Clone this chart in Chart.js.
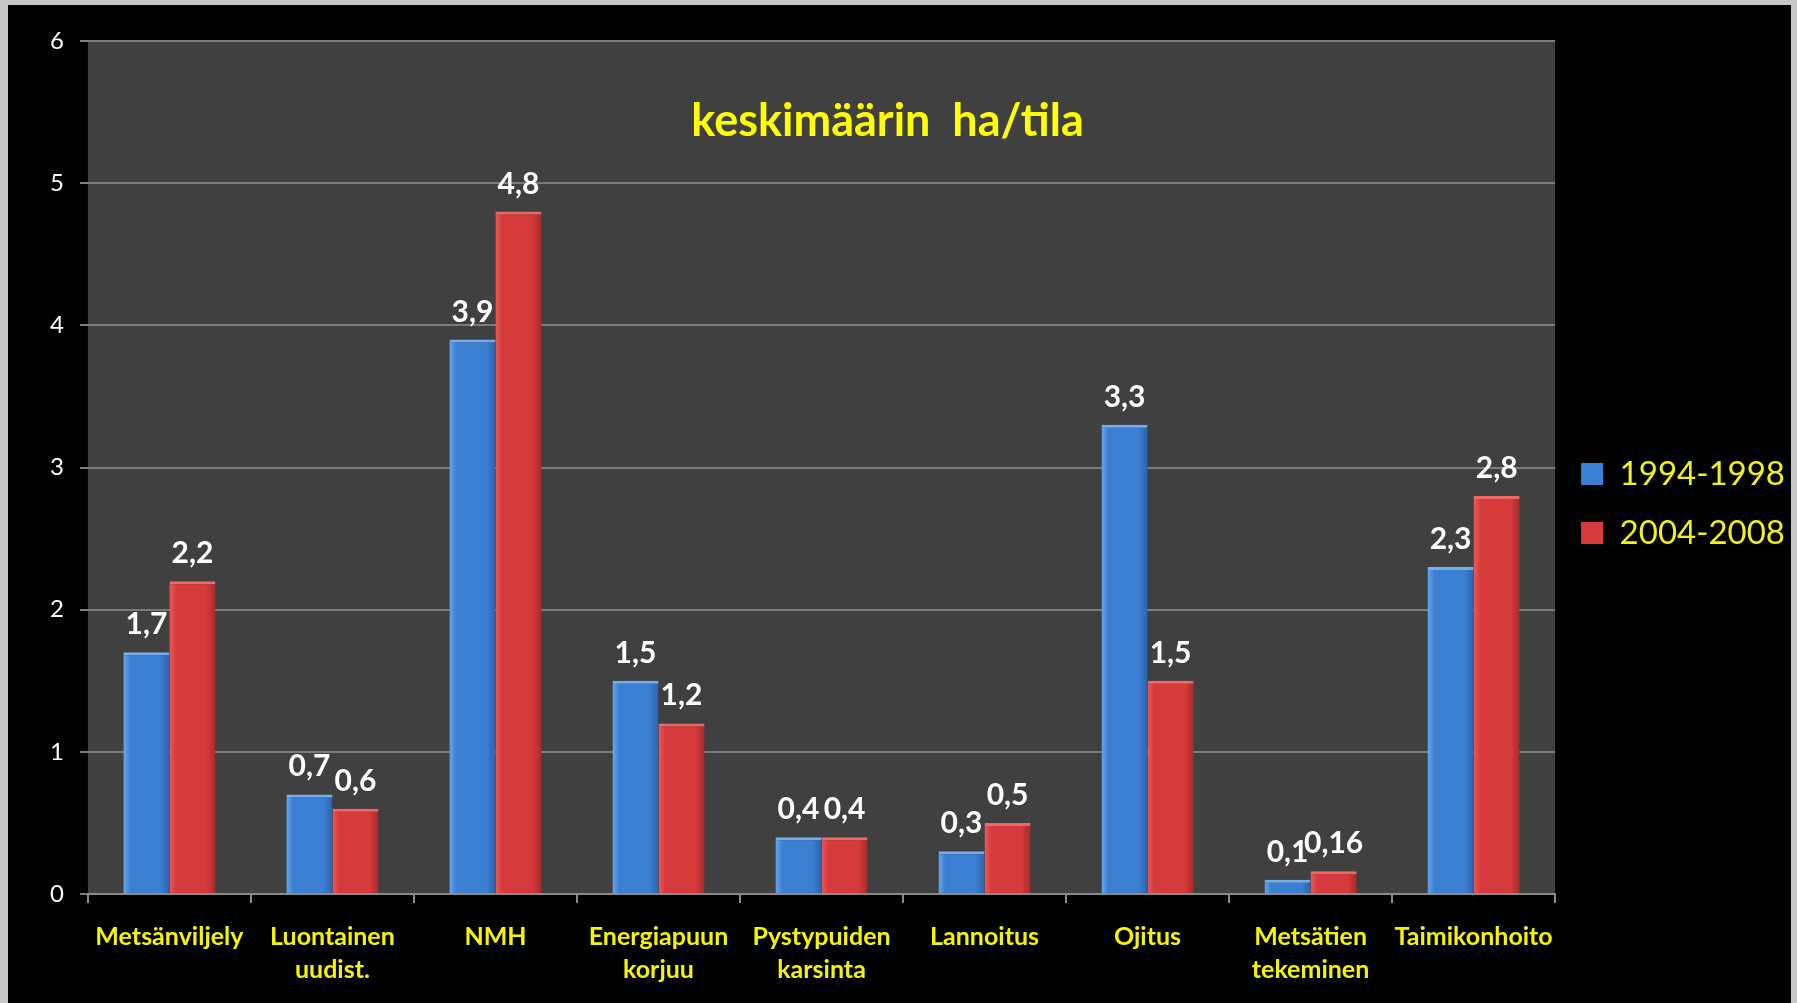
<!DOCTYPE html>
<html>
<head>
<meta charset="utf-8">
<script src="https://cdn.jsdelivr.net/npm/chart.js@4/dist/chart.umd.min.js"></script>
<style>
  html, body { margin: 0; padding: 0; background: #c8c8c8; overflow: hidden; }
  #wrap {
    position: absolute; left: 8px; top: 5px;
    width: 1789px; height: 998px; background: #000;
  }
  #edge { position: absolute; left: 1791px; top: 0; width: 6px; height: 1003px; background: #c8c8c8; }
</style>
</head>
<body>
<div id="wrap"><canvas id="chart"></canvas></div>
<div id="edge"></div>
<script>
// --- chart data ---
const categories = [
  'Metsänviljely', ['Luontainen', 'uudist.'], 'NMH', ['Energiapuun', 'korjuu'],
  ['Pystypuiden', 'karsinta'], 'Lannoitus', 'Ojitus', ['Metsätien', 'tekeminen'], 'Taimikonhoito'
];
const series1994 = [1.7, 0.7, 3.9, 1.5, 0.4, 0.3, 3.3, 0.1, 2.3];
const series2004 = [2.2, 0.6, 4.8, 1.2, 0.4, 0.5, 1.5, 0.16, 2.8];
const seriesNames = ['1994-1998', '2004-2008'];
const yTicks = [0, 1, 2, 3, 4, 5, 6];
const titleText = 'keskimäärin  ha/tila';

const CAT_PCT = 0.565;

// bar colour with a little left-to-right shading
function barFill(light, mid, dark, side) {
    return (context) => {
        const chart = context.chart;
        const xs = chart.scales.x;
        if (!xs || context.dataIndex === undefined) return mid;
        const cx = xs.getPixelForValue(context.dataIndex);
        const w = (xs.width / categories.length) * CAT_PCT / 2;
        const x0 = side === 0 ? cx - w : cx;
        const g = chart.ctx.createLinearGradient(x0, 0, x0 + w, 0);
        g.addColorStop(0, light);
        g.addColorStop(0.15, mid);
        g.addColorStop(0.8, mid);
        g.addColorStop(1, dark);
        return g;
    };
}

const plotBackground = {
    id: 'plotBackground',
    beforeDraw(chart) {
        const { ctx, chartArea: a } = chart;
        ctx.save();
        ctx.fillStyle = '#404040';
        ctx.fillRect(a.left, a.top, a.right - a.left, a.bottom - a.top);
        ctx.restore();
    }
};

const innerTitle = {
    id: 'innerTitle',
    afterDraw(chart) {
        const { ctx, chartArea: a } = chart;
        ctx.save();
        ctx.fillStyle = '#ffff00';
        ctx.font = 'bold 45px Lato';
        ctx.textAlign = 'center';
        ctx.textBaseline = 'alphabetic';
        ctx.fillText(titleText, a.left + (a.right - a.left) * 0.545, a.top + 95);
        ctx.restore();
    }
};

const valueLabels = {
    id: 'valueLabels',
    afterDatasetsDraw(chart) {
        const ctx = chart.ctx;
        ctx.save();
        ctx.fillStyle = '#ffffff';
        ctx.font = 'bold 30px Lato';
        ctx.textAlign = 'center';
        ctx.textBaseline = 'alphabetic';
        chart.data.datasets.forEach((ds, di) => {
            chart.getDatasetMeta(di).data.forEach((bar, i) => {
                const txt = String(ds.data[i]).replace('.', ',');
                ctx.fillText(txt, bar.x, bar.y - 18);
            });
        });
        ctx.restore();
    }
};

new Chart(document.getElementById('chart'), {
    type: 'bar',
    data: {
        labels: categories,
        datasets: [
            {
                label: seriesNames[0], data: series1994,
                backgroundColor: barFill('#6aa6ec', '#3b7fd3', '#2c64ad', 0),
                borderColor: '#74aef0',
                borderWidth: { top: 3, left: 0, right: 0, bottom: 0 },
                borderSkipped: 'bottom'
            },
            {
                label: seriesNames[1], data: series2004,
                backgroundColor: barFill('#ea5a5a', '#d63a3a', '#a92a2a', 1),
                borderColor: '#ee6a6a',
                borderWidth: { top: 3, left: 0, right: 0, bottom: 0 },
                borderSkipped: 'bottom'
            }
        ]
    },
    options: {
        responsive: true,
        maintainAspectRatio: false,
        animation: false,
        layout: { padding: { top: 16, left: 26, right: 2, bottom: 17 } },
        datasets: { bar: { barPercentage: 1.0, categoryPercentage: CAT_PCT } },
        scales: {
            x: {
                grid: { drawOnChartArea: false, drawTicks: true, tickLength: 9, color: '#8a8a8a', lineWidth: 2 },
                border: { color: '#8a8a8a', width: 2 },
                ticks: {
                    color: '#f5f500', font: { family: 'Lato', weight: 'bold', size: 25, lineHeight: 1.3 },
                    padding: 18, maxRotation: 0, autoSkip: false
                },
                afterFit: (scale) => { scale.height = 92; }
            },
            xTop: {
                type: 'category', position: 'top',
                grid: { display: false }, border: { display: false },
                ticks: { display: false },
                afterFit: (scale) => { scale.height = 20; }
            },
            y: {
                min: 0, max: 6,
                afterBuildTicks: (scale) => { scale.ticks = yTicks.map(v => ({ value: v })); },
                grid: { color: '#7c7c7c', lineWidth: 2, tickLength: 8 },
                border: { display: false },
                ticks: { color: '#ffffff', font: { family: 'Lato', size: 24 }, padding: 16 }
            }
        },
        plugins: {
            legend: {
                position: 'right',
                labels: {
                    color: '#f0f020', font: { family: 'Lato', size: 33 },
                    boxWidth: 22, boxHeight: 22, padding: 26,
                    generateLabels: (chart) => chart.data.datasets.map((ds, i) => ({
                        text: ds.label,
                        fillStyle: i === 0 ? '#3b7fd3' : '#d63a3a',
                        strokeStyle: 'transparent', lineWidth: 0,
                        fontColor: '#f0f020', datasetIndex: i
                    }))
                }
            },
            tooltip: { enabled: false }
        }
    },
    plugins: [plotBackground, innerTitle, valueLabels]
});
</script>
</body>
</html>
